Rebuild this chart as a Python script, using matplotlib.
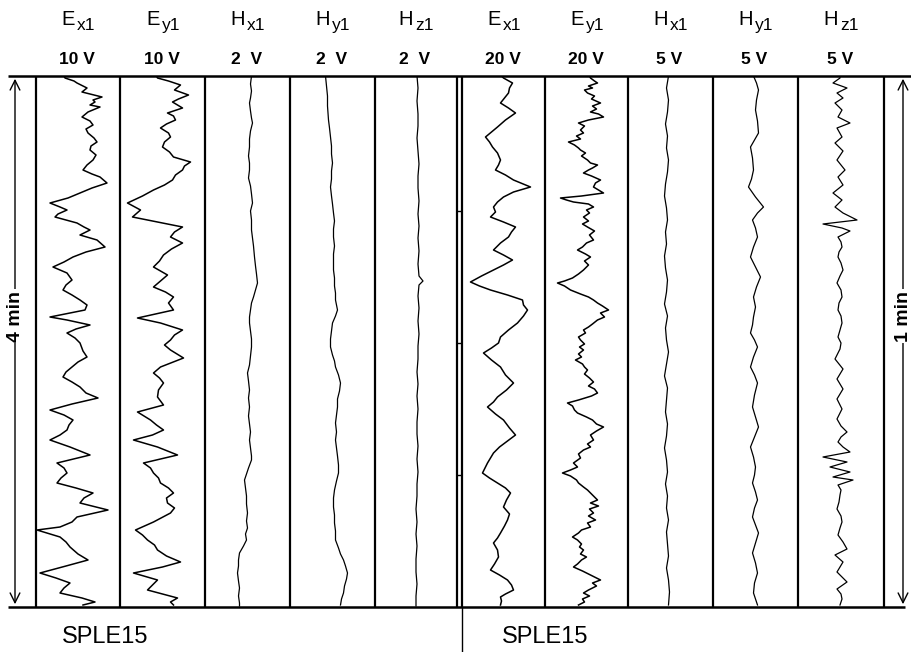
import matplotlib
matplotlib.use("Agg")
import matplotlib.pyplot as plt
from matplotlib.lines import Line2D
from matplotlib.patches import FancyArrowPatch

plt.rcParams["font.family"] = ["Liberation Sans", "DejaVu Sans"]

# ------------------------------------------------------------
# --- trace data (sample index 0..531, amplitude in panel units) ---
# ------------------------------------------------------------
ex1_L_t = [0, 2, 5, 7, 10, 12, 16, 21, 24, 26,
           29, 31, 36, 41, 45, 49, 53, 57, 62, 66,
           70, 74, 79, 84, 89, 94, 98, 101, 107, 112,
           117, 122, 127, 131, 134, 138, 141, 147, 151, 154,
           159, 164, 171, 176, 181, 186, 191, 197, 204, 209,
           214, 219, 224, 229, 234, 241, 244, 249, 253, 257,
           262, 267, 275, 281, 286, 291, 296, 301, 306, 311,
           317, 322, 328, 334, 339, 344, 349, 354, 359, 364,
           371, 379, 387, 392, 397, 402, 407, 412, 417, 422,
           427, 434, 441, 446, 451, 454, 461, 466, 471, 478,
           484, 490, 497, 502, 507, 512, 517, 522, 526, 529]
ex1_L_v = [-14, -13, -4, -1, 5, 9, 4, 24, 15, 17,
           12, 22, 10, 4, 12, 15, 8, 10, 16, 19,
           13, 12, 18, 15, 9, 5, 14, 22, 29, 14,
           2, -10, -28, -18, -11, -20, -23, -1, 6, 12,
           2, 19, 27, 8, -5, -14, -25, -11, -6, -12,
           -15, -6, 2, 9, 7, -28, -11, 12, -2, -11,
           -3, 2, 5, 9, 0, -6, -12, -15, -6, 2,
           8, 20, -6, -28, -14, -5, -9, -11, -18, -28,
           -8, 12, -21, -14, -11, -17, -21, -2, 15, 6,
           2, 30, -1, -6, -18, -41, -18, -12, -8, 0,
           10, -12, -38, -22, -8, -14, -18, 4, 17, 5]

ey1_L_t = [0, 2, 5, 9, 14, 19, 23, 26, 32, 37,
           40, 44, 48, 52, 57, 61, 66, 71, 76, 81,
           86, 90, 94, 99, 104, 109, 114, 120, 127, 134,
           141, 146, 151, 156, 161, 167, 173, 179, 185, 191,
           199, 205, 211, 216, 221, 227, 234, 242, 247, 254,
           259, 264, 269, 274, 282, 291, 297, 302, 307, 314,
           321, 329, 336, 344, 349, 354, 359, 364, 371, 379,
           387, 392, 397, 402, 407, 412, 417, 422, 427, 432,
           437, 446, 454, 459, 464, 469, 474, 480, 486, 491,
           497, 504, 509, 514, 518, 522, 526, 529]
ey1_L_v = [-6, -5, 6, 18, 12, 26, 16, 10, 20, 5,
           11, 13, 4, -2, 6, 8, 2, 0, 7, 11,
           28, 22, 20, 13, 10, 2, -9, -20, -35, -22,
           -30, -5, 20, 12, 8, 20, 9, 1, -3, -9,
           5, -2, -9, 3, 11, 6, 11, -25, -2, 20,
           12, 8, 2, 8, 21, -2, -9, -3, 1, -4,
           -5, 1, -25, -12, -6, 1, -10, -29, -5, 15,
           -19, -12, -9, -4, -2, 6, 11, 4, 5, 12,
           8, -9, -27, -20, -15, -8, -5, 4, 18, 0,
           -29, -5, -10, -15, 0, 15, 8, 11]

hx1_L_t = [0, 8, 15, 22, 27, 35, 42, 47, 55, 63,
           71, 80, 87, 94, 102, 110, 118, 127, 135, 144,
           154, 162, 170, 181, 190, 198, 207, 214, 221, 227,
           234, 241, 247, 255, 263, 271, 280, 289, 297, 305,
           314, 322, 331, 340, 348, 356, 364, 372, 380, 384,
           392, 398, 404, 412, 420, 428, 437, 445, 452, 458,
           464, 470, 477, 484, 490, 497, 505, 512, 520, 527,
           530]
hx1_L_v = [4, 3, 4, 3, 2, 3, 4, 5, 3, 2,
           2, 1, 2, 2, 1, 3, 4, 5, 3, 4,
           4, 5, 6, 7, 8, 9, 10, 8, 6, 4,
           3, 2, 2, 3, 4, 4, 3, 2, 0, 1,
           2, 1, 2, 1, 2, 3, 2, 3, 4, 4,
           1, -1, -3, -2, -1, -1, 0, -1, 0, -2,
           -1, -4, -8, -9, -9, -10, -9, -8, -9, -8,
           -8]

hy1_L_t = [0, 10, 20, 30, 44, 52, 61, 70, 78, 87,
           95, 103, 111, 120, 128, 137, 145, 153, 161, 170,
           178, 186, 194, 202, 210, 217, 224, 234, 240, 247,
           255, 263, 271, 279, 285, 291, 299, 307, 315, 323,
           331, 339, 347, 356, 364, 372, 380, 389, 397, 405,
           414, 422, 431, 439, 447, 455, 464, 472, 478, 484,
           490, 497, 503, 510, 517, 523, 529]
hy1_L_v = [-7, -6, -5, -5, -4, -3, -2, -1, -1, 0,
           -1, -1, -2, -1, 0, 1, 2, 1, 1, 2,
           1, 1, 1, 2, 2, 3, 3, 5, 3, 0,
           -1, -2, -2, 0, 2, 3, 6, 8, 7, 5,
           5, 4, 3, 4, 3, 4, 5, 6, 6, 4,
           2, 1, 1, 2, 2, 3, 3, 6, 8, 11,
           13, 15, 14, 12, 11, 9, 8]

hz1_L_t = [0, 12, 25, 38, 50, 62, 75, 88, 100, 112,
           125, 138, 150, 162, 175, 188, 200, 205, 209, 220,
           232, 245, 258, 270, 283, 296, 308, 320, 333, 346,
           358, 370, 383, 396, 408, 420, 433, 446, 458, 470,
           483, 496, 508, 520, 530]
hz1_L_v = [1, 2, 1, 2, 2, 1, 2, 3, 2, 2,
           3, 2, 3, 2, 3, 2, 3, 7, 3, 2,
           3, 2, 3, 2, 2, 1, 2, 1, 2, 1,
           1, 2, 1, 2, 1, 1, 0, 1, 0, 1,
           0, 0, 1, 0, 0]

ex1_R_t = [0, 2, 7, 12, 17, 22, 27, 32, 37, 44,
           51, 56, 61, 66, 71, 77, 84, 89, 94, 99,
           104, 111, 116, 121, 126, 131, 136, 141, 146, 151,
           156, 161, 167, 174, 179, 184, 189, 194, 200, 206,
           210, 214, 219, 224, 229, 234, 240, 247, 254, 261,
           267, 272, 277, 284, 291, 299, 307, 314, 321, 326,
           331, 338, 344, 352, 359, 365, 371, 377, 387, 397,
           402, 407, 412, 417, 424, 431, 438, 444, 450, 457,
           462, 467, 474, 481, 488, 494, 499, 504, 509, 514,
           518, 521, 525, 529]
ex1_R_v = [-2, 0, 9, 6, 5, 1, -3, 5, 12, 2,
           -6, -12, -18, -14, -11, -6, -3, -5, -8, 2,
           10, 27, 10, 0, -6, -10, -8, -13, 0, 12,
           8, 5, -3, -10, 0, 9, 0, -10, -22, -33,
           -24, -13, 4, 19, 20, 24, 20, 14, 5, -3,
           -5, -12, -20, -12, -3, 2, 10, 3, -6, -10,
           -16, -8, 0, 6, 12, 4, -4, -10, -16, -21,
           -14, -6, 2, 7, 3, 0, 6, 4, 1, -3,
           -6, -10, -6, -5, -9, -13, -4, 4, 8, 10,
           2, -3, -2, -3]

ey1_R_t = [0, 2, 5, 7, 10, 12, 14, 17, 20, 23,
           27, 30, 33, 36, 38, 41, 44, 47, 50, 54,
           57, 60, 63, 66, 69, 72, 74, 77, 80, 84,
           87, 89, 92, 94, 97, 100, 104, 107, 111, 114,
           117, 120, 122, 124, 126, 128, 131, 134, 137, 141,
           145, 148, 151, 155, 159, 164, 167, 171, 174, 178,
           181, 185, 189, 194, 198, 202, 205, 207, 210, 214,
           218, 221, 224, 227, 230, 234, 237, 241, 244, 248,
           251, 254, 257, 261, 264, 268, 271, 274, 278, 281,
           284, 288, 291, 294, 298, 302, 306, 310, 313, 317,
           320, 324, 327, 330, 334, 337, 341, 344, 348, 351,
           355, 359, 364, 368, 371, 374, 378, 382, 387, 391,
           394, 397, 400, 404, 407, 411, 414, 418, 421, 424,
           427, 430, 433, 437, 440, 444, 447, 451, 454, 457,
           461, 464, 468, 471, 474, 478, 481, 484, 488, 491,
           495, 498, 501, 504, 507, 510, 514, 517, 520, 523,
           526, 529]
ey1_R_v = [3, 4, 8, 11, 2, 6, -2, 1, 8, 5,
           14, 6, 10, 4, 12, 17, 2, -8, -2, -6,
           -3, -10, -6, -18, -12, -8, -6, -1, -5, 1,
           4, 11, 6, 2, -3, 5, 14, 9, 7, 12,
           17, -5, -26, -20, -13, 2, 7, 0, 3, -3,
           2, -4, 1, 8, 3, 7, 0, -4, -9, -1,
           4, -2, 2, -3, -8, -14, -22, -29, -22, -16,
           -6, 2, 7, 11, 16, 22, 14, 18, 11, 6,
           2, -3, -1, -8, -6, -2, -7, -3, -8, -5,
           -11, -4, -2, 1, -2, 3, 7, 2, 8, 11,
           5, -8, -19, -14, -12, -9, 0, 6, 10, 17,
           10, 4, 7, 1, 4, -3, -8, -6, -13, -9,
           -16, -24, -16, -10, -8, -3, 1, 5, 8, 11,
           4, 12, 3, 7, 2, 9, 1, 4, -5, -8,
           -14, -9, -5, -7, -3, -6, 0, -5, -9, -13,
           -4, 2, 8, 14, 6, 10, 2, -3, 3, -4,
           -2, -8]

hx1_R_t = [0, 12, 24, 36, 48, 60, 72, 84, 96, 108,
           120, 132, 144, 156, 168, 180, 192, 204, 216, 228,
           240, 252, 264, 276, 288, 300, 312, 324, 336, 348,
           360, 372, 384, 396, 408, 420, 432, 444, 456, 468,
           480, 492, 504, 516, 529]
hx1_R_v = [-2, -4, -2, -3, -5, -3, -4, -2, -3, -5,
           -6, -4, -3, -5, -4, -6, -5, -3, -4, -6,
           -3, -5, -4, -2, -4, -6, -3, -4, -5, -3,
           -4, -6, -4, -3, -5, -3, -4, -2, -4, -3,
           -2, -4, -2, -1, -2]

hy1_R_t = [0, 7, 14, 24, 34, 45, 57, 64, 71, 82,
           94, 103, 111, 121, 131, 137, 144, 152, 161, 171,
           181, 191, 201, 211, 221, 231, 241, 249, 257, 264,
           271, 281, 291, 299, 307, 319, 331, 341, 351, 361,
           371, 381, 391, 399, 407, 416, 424, 432, 441, 449,
           457, 467, 477, 487, 497, 507, 517, 523, 529]
hy1_R_v = [-2, 1, 3, 1, 0, 2, 3, -1, -5, -3,
           -2, -4, -7, 0, 8, 2, -3, 0, 2, -2,
           -5, 0, 5, 1, -2, 0, -2, -3, -5, -1,
           2, -2, -5, -1, 2, -1, -3, 0, 3, -1,
           -5, -2, 0, -1, -3, 0, 2, -1, -3, 0,
           3, 0, -3, 0, 2, -1, -2, 0, 2]

hz1_R_t = [0, 2, 7, 12, 17, 22, 27, 34, 41, 47,
           52, 61, 67, 75, 84, 94, 101, 109, 117, 124,
           131, 137, 144, 148, 152, 155, 161, 166, 171, 176,
           181, 187, 194, 200, 207, 214, 221, 227, 234, 240,
           247, 254, 261, 267, 273, 283, 293, 303, 313, 323,
           333, 343, 350, 356, 361, 366, 371, 376, 381, 386,
           391, 396, 401, 404, 409, 414, 419, 426, 433, 440,
           446, 452, 459, 466, 473, 479, 486, 491, 496, 501,
           506, 513, 518, 523, 529]
hz1_R_v = [-1, -1, -8, 6, -4, 2, -6, 1, -3, 9,
           -4, 1, -6, 2, -4, 4, -3, 2, -8, 1,
           -6, 2, 16, -18, 1, 9, -3, 0, 1, -2,
           -3, 0, 2, -1, -4, 0, 1, -2, -3, 0,
           1, -1, -3, 0, -1, -6, 2, -4, 2, -4,
           1, -4, 0, 6, 0, -3, 2, 9, -18, 6,
           -11, 9, -8, 12, -3, 0, -1, -2, -4, 0,
           1, -1, -3, 2, 6, -6, 2, -1, -4, 1,
           6, -4, 0, 1, -1]

comp_main = ["E", "E", "H", "H", "H"]
comp_sub = ["x1", "y1", "x1", "y1", "z1"]
volts_left = ["10 V", "10 V", "2  V", "2  V", "2  V"]
volts_right = ["20 V", "20 V", "5 V", "5 V", "5 V"]
station = "SPLE15"

traces_left = [(ex1_L_t, ex1_L_v), (ey1_L_t, ey1_L_v), (hx1_L_t, hx1_L_v),
               (hy1_L_t, hy1_L_v), (hz1_L_t, hz1_L_v)]
traces_right = [(ex1_R_t, ex1_R_v), (ey1_R_t, ey1_R_v), (hx1_R_t, hx1_R_v),
                (hy1_R_t, hy1_R_v), (hz1_R_t, hz1_R_v)]

# ------------------------------------------------------------
# --- layout (pixels) ---
# ------------------------------------------------------------
W, H = 911, 652
TOP, BOT = 76, 607
edges_left = [36, 120, 205, 290, 375, 457]
edges_right = [462, 545, 628, 713, 798, 884]

fig = plt.figure(figsize=(W / 100, H / 100), dpi=100)


def fx(x):
    return x / W


def fy(y):
    return 1 - y / H


def line(x0, y0, x1, y1, lw):
    fig.add_artist(Line2D([fx(x0), fx(x1)], [fy(y0), fy(y1)],
                          color="black", lw=lw, solid_capstyle="butt"))


def draw_group(edges, traces, volts):
    for i, (t, v) in enumerate(traces):
        x0, x1 = edges[i], edges[i + 1]
        w = x1 - x0
        ax = fig.add_axes([fx(x0), fy(BOT), w / W, (BOT - TOP) / H])
        ax.plot(v, t, color="black", lw=1.1 if i < 2 else 0.9)
        ax.set_xlim(-w / 2, w / 2)
        ax.set_ylim(BOT - TOP, 0)
        ax.axis("off")

        c = (x0 + x1) / 2
        fig.text(fx(c - 3), fy(25), comp_main[i], fontsize=14.5,
                 ha="right", va="baseline")
        fig.text(fx(c - 1), fy(30), comp_sub[i], fontsize=12.5,
                 ha="left", va="baseline")
        fig.text(fx(c - 1), fy(60), volts[i], fontsize=12.5,
                 fontweight="bold", ha="center", va="center")

    for x in edges:
        line(x, TOP, x, BOT, 1.6)


draw_group(edges_left, traces_left, volts_left)
draw_group(edges_right, traces_right, volts_right)

# frame lines
line(8, TOP, 911, TOP, 1.8)
line(8, BOT, 905, BOT, 1.8)

# ticks between the two groups
for y in [211, 343, 475]:
    line(457, y, 462, y, 1.0)

# separator below the panels
line(462, BOT, 462, H, 1.0)

# time-scale arrows
for xa, label in [(15, "4 min"), (903, "1 min")]:
    fig.add_artist(FancyArrowPatch((fx(xa), fy(TOP)), (fx(xa), fy(BOT)),
                                   transform=fig.transFigure,
                                   arrowstyle="<->,head_length=0.5,head_width=0.25",
                                   mutation_scale=14, color="black", lw=1.0))
    fig.text(fx(xa), fy(316), label, fontsize=14, fontweight="bold",
             rotation=90, ha="center", va="center",
             bbox=dict(facecolor="white", edgecolor="none", pad=1))

fig.text(fx(62), fy(637), station, fontsize=17, ha="left", va="center")
fig.text(fx(502), fy(637), station, fontsize=17, ha="left", va="center")

fig.savefig("out.png", dpi=100, facecolor="white")
